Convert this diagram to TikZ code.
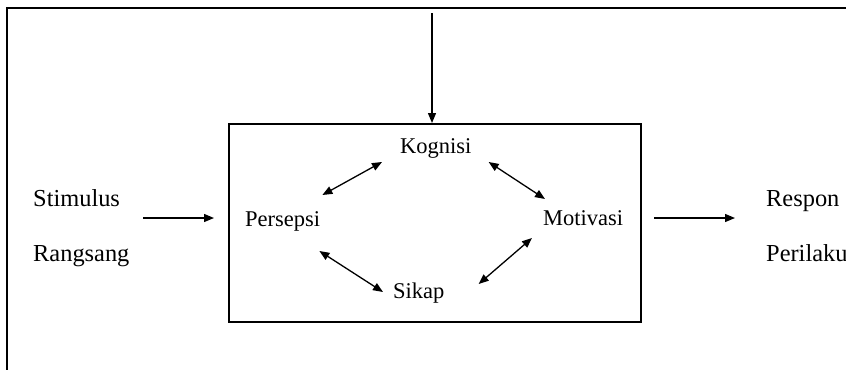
\documentclass[tikz,border=0pt]{standalone}
\usepackage{fontspec}
\setmainfont{Liberation Serif}
\usetikzlibrary{arrows.meta,calc}
\begin{document}
\begin{tikzpicture}[x=1pt,y=-1pt,
  lbl/.style={inner sep=0pt,font=\fontsize{22.5}{27}\selectfont},
  olbl/.style={inner sep=0pt,font=\fontsize{24.4}{29}\selectfont},
  arr/.style={line width=1.3pt,-{Triangle[length=10pt,width=8pt]}},
  dar/.style={line width=1.3pt,{Triangle[length=10pt,width=8pt]}-{Triangle[length=10pt,width=8pt]}}]
\useasboundingbox (0,0) rectangle (846,370);
% frame
\draw[line width=1.5pt] (846,8) -- (7,8) -- (7,370);
% central box
\node[draw,line width=2pt,minimum width=412pt,minimum height=198pt,inner sep=0pt] (box) at (435,223) {};
% labels
\node[lbl,anchor=base west] (kog) at (400,153) {Kognisi};
\node[lbl,anchor=base west] (pers) at (245,226) {Persepsi};
\node[lbl,anchor=base west] (mot) at (543,225) {Motivasi};
\node[lbl,anchor=base west] (sik) at (393,298) {Sikap};
\node[olbl,anchor=base west] (stim) at (33,206) {Stimulus};
\node[olbl,anchor=base west] (rang) at (33,261) {Rangsang};
\node[olbl,anchor=base west] (resp) at (766,206) {Respon};
\node[olbl,anchor=base west] (peri) at (766,261) {Perilaku};
% top input
\coordinate (topin) at (432,13);
\draw[arr] (topin) -- (topin |- box.north);
% left and right arrows
\coordinate (sin) at (143,218);
\draw[arr,shorten >=14pt] (sin) -- (sin -| box.west);
\coordinate (rout) at (735,218);
\draw[arr,shorten <=12pt] (rout -| box.east) -- (rout);
% internal double arrows
\draw[dar] ($(pers.base east)+(2,-31)$) -- ($(kog.base west)+(-18,9)$);
\draw[dar] ($(kog.base east)+(17,9)$) -- ($(mot.base west)+(2,-26)$);
\draw[dar] ($(mot.base west)+(-11,13)$) -- ($(sik.base east)+(34,-14)$);
\draw[dar] ($(pers.base east)+(-1,25)$) -- ($(sik.base west)+(-10,-6)$);
\end{tikzpicture}
\end{document}
